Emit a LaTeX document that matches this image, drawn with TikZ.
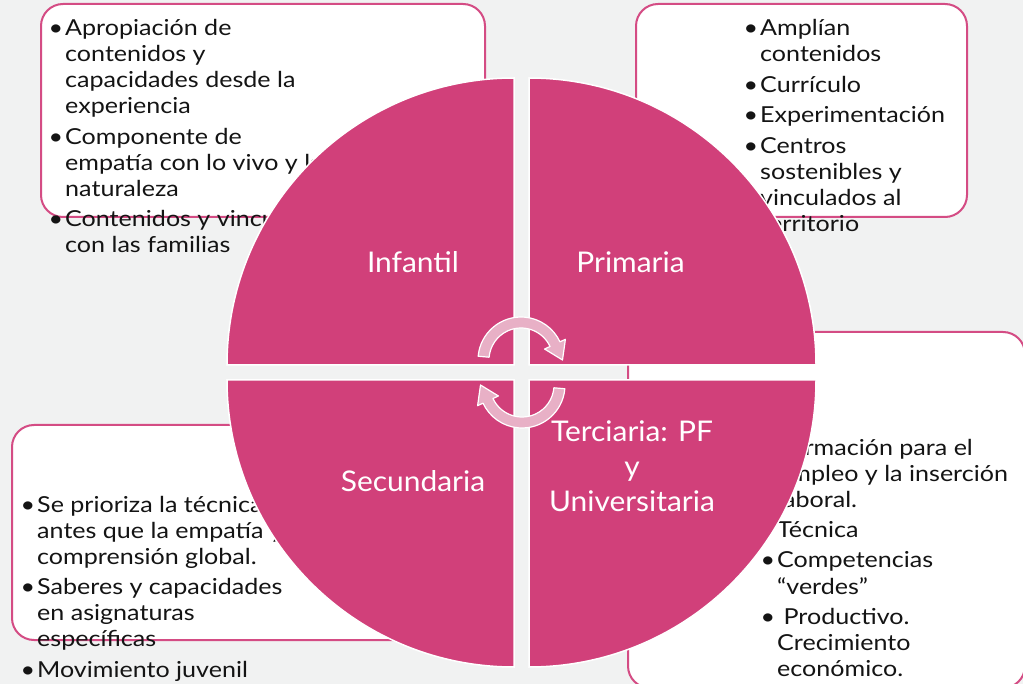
\documentclass[tikz,border=0pt]{standalone}
\usepackage{fontspec}
\setmainfont{Lato}[FakeStretch=1.14]
\newfontfamily\stagefont{Lato}[FakeStretch=1.05]
\usepackage{xcolor}
\usepackage{tikz}

\definecolor{bggray}{RGB}{241,242,242}
\definecolor{quadpink}{RGB}{209,64,122}
\definecolor{boxpink}{RGB}{212,76,132}
\definecolor{arrowpink}{RGB}{232,176,198}
\definecolor{txtcol}{RGB}{20,20,20}

\tikzset{
  infobox/.style={draw=boxpink, line width=2pt, fill=white, rounded corners=22pt},
  quarter/.style={fill=quadpink, draw=white, line width=1.5pt},
  bullets/.style={anchor=base west, inner sep=0pt, text=txtcol, font=\fontsize{22}{26}\selectfont},
  stage/.style={anchor=base, inner sep=0pt, text=white, font=\stagefont\fontsize{28.5}{35}\selectfont},
  turnarrow/.style={fill=arrowpink, draw=white, line width=1.2pt, line join=round}
}

\begin{document}
\begin{tikzpicture}[x=1pt,y=1pt]
	\clip (0,0) rectangle (1023,-684);
	\fill[bggray] (0,0) rectangle (1023,-684);
	% boxes behind the circle
	\draw[infobox] (41,-4) rectangle (485,-217);
	\draw[infobox] (636,-4) rectangle (967,-217);
	\draw[infobox] (12,-425) rectangle (440,-640);
	\draw[infobox] (628,-332) rectangle (1025,-688);
	\node[bullets] (infantilNotes) at (65,-36) {\begin{tabular}[t]{@{}l@{}}
		\llap{\textbullet\hspace{2pt}}Apropiación de\\ contenidos y\\ capacidades desde la\\ experiencia\\[4.5pt]
		\llap{\textbullet\hspace{2pt}}Componente de\\ empatía con lo vivo y la\\ naturaleza\\[4.5pt]
		\llap{\textbullet\hspace{2pt}}Contenidos y vinculación\\ con las familias
	\end{tabular}};
	\node[bullets] (primariaNotes) at (760,-36) {\begin{tabular}[t]{@{}l@{}}
		\llap{\textbullet\hspace{2pt}}Amplían\\ contenidos\\[4.5pt]
		\llap{\textbullet\hspace{2pt}}Currículo\\[4.5pt]
		\llap{\textbullet\hspace{2pt}}Experimentación\\[4.5pt]
		\llap{\textbullet\hspace{2pt}}Centros\\ sostenibles y\\ vinculados al\\ territorio
	\end{tabular}};
	\node[bullets] (secundariaNotes) at (37,-512) {\begin{tabular}[t]{@{}l@{}}
		\llap{\textbullet\hspace{2pt}}Se prioriza la técnica\\ antes que la empatía y\\ comprensión global.\\[4.5pt]
		\llap{\textbullet\hspace{2pt}}Saberes y capacidades\\ en asignaturas\\ específicas\\[4.5pt]
		\llap{\textbullet\hspace{2pt}}Movimiento juvenil
	\end{tabular}};
	\node[bullets] (terciariaNotes) at (777,-455) {\begin{tabular}[t]{@{}l@{}}
		\llap{\textbullet\hspace{2pt}}Formación para el\\ empleo y la inserción\\ laboral.\\[4.5pt]
		\llap{\textbullet\hspace{2pt}}Técnica\\[4.5pt]
		\llap{\textbullet\hspace{2pt}}Competencias\\ “verdes”\\[4.5pt]
		\llap{\textbullet\hspace{2pt}}\ Productivo.\\ Crecimiento\\ económico.
	\end{tabular}};
	% the four quarters
	\filldraw[quarter] (514,-365) -- (227,-365) arc (180:90:287) -- cycle;
	\filldraw[quarter] (529,-365) -- (529,-78) arc (90:0:287) -- cycle;
	\filldraw[quarter] (529,-380) -- (816,-380) arc (0:-90:287) -- cycle;
	\filldraw[quarter] (514,-380) -- (514,-667) arc (270:180:287) -- cycle;
	\node[stage] (infantil) at (413,-273) {Infantil};
	\node[stage] (primaria) at (630.5,-273) {Primaria};
	\node[stage] (secundaria) at (413,-491) {Secundaria};
	\node[stage] (terciaria) at (632,-442) {\begin{tabular}[t]{@{}c@{}}Terciaria: PF\\ y\\ Universitaria\end{tabular}};
	% turning arrows
	\begin{scope}[shift={(521,-360)}]
		\filldraw[turnarrow] (175:43) arc (175:25:43) -- (25:49) -- (41.5,0) -- (25:26) -- (25:32) arc (25:175:32) -- cycle;
	\end{scope}
	\begin{scope}[shift={(522,-385)},rotate=180]
		\filldraw[turnarrow] (175:43) arc (175:25:43) -- (25:49) -- (41.5,0) -- (25:26) -- (25:32) arc (25:175:32) -- cycle;
	\end{scope}
\end{tikzpicture}
\end{document}
